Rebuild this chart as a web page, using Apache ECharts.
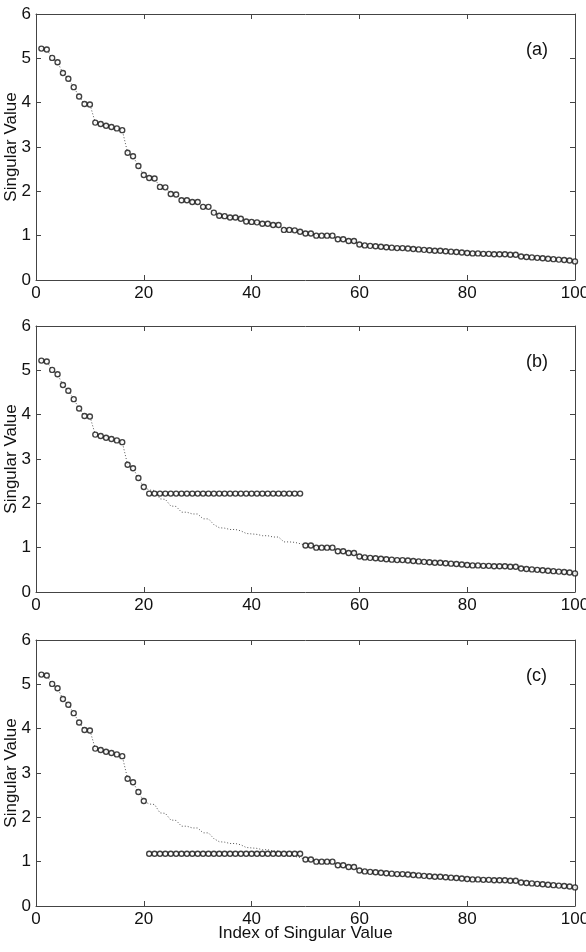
<!DOCTYPE html>
<html>
<head>
<meta charset="utf-8">
<script src="https://cdn.jsdelivr.net/npm/echarts@6/dist/echarts.min.js"></script>
<style>
  html, body { margin: 0; padding: 0; background: #fff; }
  #main { width: 586px; height: 952px; }
</style>
</head>
<body>
<div id="main"></div>
<script>
// singular values, index 1..100
var singularValues = [
  5.22, 5.20, 5.01, 4.91, 4.67, 4.54, 4.35, 4.14, 3.97, 3.96,
  3.55, 3.52, 3.48, 3.45, 3.42, 3.38, 2.87, 2.79, 2.57, 2.37,
  2.30, 2.29, 2.10, 2.09, 1.94, 1.93, 1.80, 1.80, 1.76, 1.76,
  1.65, 1.65, 1.52, 1.45, 1.44, 1.41, 1.41, 1.38, 1.32, 1.31,
  1.30, 1.27, 1.27, 1.24, 1.24, 1.13, 1.13, 1.12, 1.09, 1.05,
  1.05, 1.00, 1.00, 1.00, 1.00, 0.92, 0.92, 0.88, 0.88, 0.80,
  0.78, 0.77, 0.76, 0.75, 0.74, 0.73, 0.72, 0.72, 0.71, 0.70,
  0.69, 0.68, 0.67, 0.66, 0.66, 0.65, 0.64, 0.63, 0.62, 0.61,
  0.60, 0.60, 0.59, 0.59, 0.58, 0.58, 0.58, 0.57, 0.57, 0.53,
  0.52, 0.51, 0.50, 0.49, 0.48, 0.47, 0.46, 0.45, 0.44, 0.42
];
// indices replaced in (b) and (c), and the flat level they were set to
var replacedRange = [21, 49];
var levelB = 2.22;
var levelC = 1.18;
var panelLabels = ['(a)', '(b)', '(c)'];

var chart = echarts.init(document.getElementById('main'));

var FONT = 'Liberation Sans, Arial, sans-serif';
var gridTops = [14, 326, 640];
var gridH = 266;

function inRange(i) { return i >= replacedRange[0] && i <= replacedRange[1]; }

var allPts = singularValues.map(function (v, i) { return [i + 1, v]; });
var keptPts = allPts.filter(function (p) { return !inRange(p[0]); });
function flatPts(level) {
  var out = [];
  for (var i = replacedRange[0]; i <= replacedRange[1]; i++) out.push([i, level]);
  return out;
}

var grids = [], xAxes = [], yAxes = [], series = [], titles = [];
gridTops.forEach(function (top, g) {
  grids.push({ left: 36, width: 539, top: top, height: gridH, containLabel: false, outerBoundsMode: 'none' });
  var last = g === 2;
  xAxes.push({
    gridIndex: g, type: 'value', min: 0, max: 100, interval: 20, position: 'bottom',
    name: last ? 'Index of Singular Value' : '', nameLocation: 'middle', nameGap: 19,
    nameMoveOverlap: false,
    nameTextStyle: { color: '#111', fontSize: 17, fontFamily: FONT },
    axisLine: { show: true, onZero: false, lineStyle: { color: '#444', width: 1 } },
    axisTick: { show: true, inside: true, length: 5, lineStyle: { color: '#444' } },
    axisLabel: { color: '#111', fontSize: 17, fontFamily: FONT, margin: 5 },
    splitLine: { show: false }
  });
  xAxes.push({
    gridIndex: g, type: 'value', min: 0, max: 100, interval: 20, position: 'top',
    axisLine: { show: true, onZero: false, lineStyle: { color: '#444', width: 1 } },
    axisTick: { show: true, inside: true, length: 5, lineStyle: { color: '#444' } },
    axisLabel: { show: false }, splitLine: { show: false }
  });
  yAxes.push({
    gridIndex: g, type: 'value', min: 0, max: 6, interval: 1, position: 'left',
    name: 'Singular Value', nameLocation: 'middle', nameGap: 16,
    nameMoveOverlap: false,
    nameTextStyle: { color: '#111', fontSize: 17, fontFamily: FONT },
    axisLine: { show: true, onZero: false, lineStyle: { color: '#444', width: 1 } },
    axisTick: { show: true, inside: true, length: 5, lineStyle: { color: '#444' } },
    axisLabel: { color: '#111', fontSize: 17, fontFamily: FONT, margin: 5 },
    splitLine: { show: false }
  });
  yAxes.push({
    gridIndex: g, type: 'value', min: 0, max: 6, interval: 1, position: 'right',
    axisLine: { show: true, onZero: false, lineStyle: { color: '#444', width: 1 } },
    axisTick: { show: true, inside: true, length: 5, lineStyle: { color: '#444' } },
    axisLabel: { show: false }, splitLine: { show: false }
  });

  var xi = g * 2, yi = g * 2;
  var circle = {
    color: '#fff', borderColor: '#111', borderWidth: 1.4
  };
  // dotted line through every singular value
  series.push({
    type: 'line', xAxisIndex: xi, yAxisIndex: yi, data: allPts,
    showSymbol: false, symbol: 'none', silent: true, z: 1,
    lineStyle: { color: '#555', width: 1, type: [1, 2] }
  });
  // circles on the kept values
  series.push({
    type: 'scatter', xAxisIndex: xi, yAxisIndex: yi,
    data: g === 0 ? allPts : keptPts,
    symbol: 'circle', symbolSize: 5, itemStyle: circle, z: 2
  });
  if (g > 0) {
    series.push({
      type: 'scatter', xAxisIndex: xi, yAxisIndex: yi,
      data: flatPts(g === 1 ? levelB : levelC),
      symbol: 'circle', symbolSize: 5, itemStyle: circle, z: 2
    });
  }
  titles.push({
    text: panelLabels[g], left: 521, top: top + 22,
    textStyle: { color: '#111', fontSize: 18, fontWeight: 'normal', fontFamily: FONT }
  });
});

chart.setOption({
  animation: false,
  backgroundColor: '#fff',
  title: titles,
  grid: grids,
  xAxis: xAxes,
  yAxis: yAxes,
  series: series
});
</script>
</body>
</html>
